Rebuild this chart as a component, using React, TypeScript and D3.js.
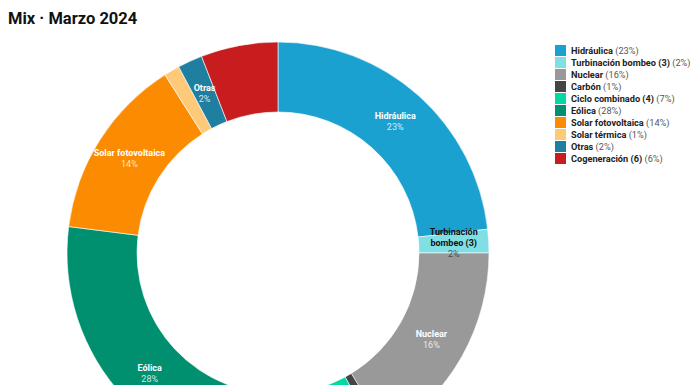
import React from "react";
import * as d3 from "d3";

const names = [
  "Hidráulica",
  "Turbinación bombeo (3)",
  "Nuclear",
  "Carbón",
  "Ciclo combinado (4)",
  "Eólica",
  "Solar fotovoltaica",
  "Solar térmica",
  "Otras",
  "Cogeneración (6)",
];
const shares = [23.2, 1.8, 16.3, 0.8, 6.9, 28.0, 14.0, 1.2, 1.9, 5.9];
const shownPct = [23, 2, 16, 1, 7, 28, 14, 1, 2, 6];
const colors = [
  "#1ba1d0", "#7fdfe5", "#999999", "#444444", "#00d9a3",
  "#00906f", "#fb8b00", "#fec978", "#1f7fa0", "#c81d1f",
];
// slice labels (lines) — null means no label in the slice
const sliceLabels: (string[] | null)[] = [
  ["Hidráulica"],
  ["Turbinación", "bombeo (3)"],
  ["Nuclear"],
  null,
  null,
  ["Eólica"],
  ["Solar fotovoltaica"],
  null,
  ["Otras"],
  null,
];
const darkText = [false, true, false, false, false, false, false, false, false, false];

export default function App() {
  const W = 696, H = 385;
  const cx = 278, cy = 253;
  const outerR = 211, innerR = 141;

  const data = names.map((n, i) => ({ name: n, v: shares[i], i }));
  const pie = d3.pie<any>().value(d => d.v).sort(null);
  const arcs = pie(data);
  const arcGen = d3.arc<any>().innerRadius(innerR).outerRadius(outerR);

  const font = "Roboto, 'Noto Sans', sans-serif";

  return (
    <svg width={W} height={H} style={{ position: "absolute", left: 0, top: 0 }} fontFamily={font}>
      <text x={8} y={24} fontSize={16.5} fontWeight={700} fill="#111">Mix · Marzo 2024</text>
      <g transform={`translate(${cx},${cy})`}>
        {arcs.map((a, i) => (
          <path key={i} d={arcGen(a) || ""} fill={colors[i]} stroke="#fff" strokeWidth={0.6} />
        ))}
        {arcs.map((a, i) => {
          const lines = sliceLabels[i];
          if (!lines) return null;
          const [x, y] = arcGen.centroid(a);
          const all = [...lines, `${shownPct[i]}%`];
          const lh = 11;
          const y0 = y - ((all.length - 1) * lh) / 2;
          const dark = darkText[i];
          return (
            <text key={"l" + i} textAnchor="middle" fontSize={9}>
              {all.map((t, k) => (
                <tspan
                  key={k}
                  x={x}
                  y={y0 + k * lh + 3}
                  fontWeight={k < lines.length ? 700 : 400}
                  fill={dark ? (k < lines.length ? "#111" : "#333") : "#fff"}
                  fillOpacity={k < lines.length ? 1 : 0.8}
                >
                  {t}
                </tspan>
              ))}
            </text>
          );
        })}
      </g>
      <g transform="translate(555,45)">
        {names.map((n, i) => (
          <g key={n} transform={`translate(0,${i * 12})`}>
            <rect x={0} y={0} width={11} height={11} fill={colors[i]} />
            <text x={16} y={9} fontSize={9.2}>
              <tspan fontWeight={700} fill="#222">{n}</tspan>
              <tspan fill="#555"> ({shownPct[i]}%)</tspan>
            </text>
          </g>
        ))}
      </g>
    </svg>
  );
}
